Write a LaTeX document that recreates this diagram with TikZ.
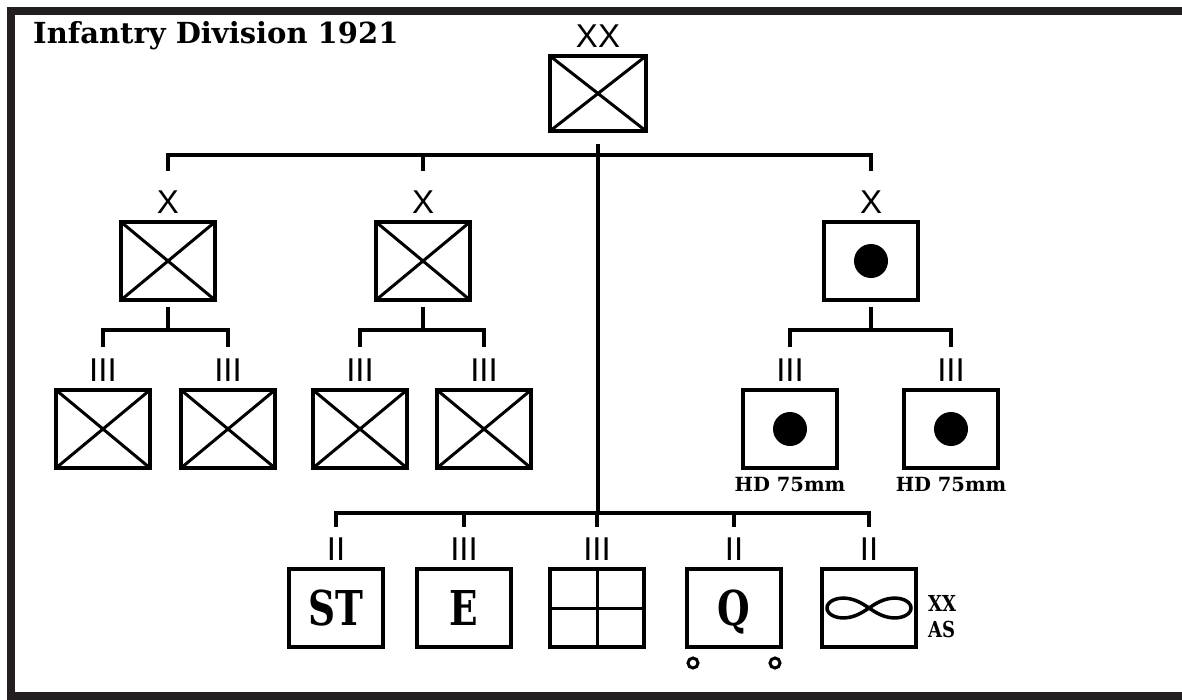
\documentclass[tikz,border=0pt]{standalone}
\usepackage{fontspec}
\setmainfont{DejaVu Serif}
\newfontfamily\echelonfont{Liberation Sans}
\usetikzlibrary{positioning}
\definecolor{cadre}{HTML}{231F20}

\begin{document}
\begin{tikzpicture}[x=1pt, y=-1pt,
    unit/.style={draw, line width=3.6pt, minimum width=94pt, minimum height=78pt, inner sep=0pt, outer sep=0pt},
    echelon/.style={font=\echelonfont\fontsize{33}{33}\selectfont, inner sep=0pt, anchor=base},
    link/.style={line width=3.3pt},
    crossline/.style={line width=3pt},
    big/.style={font=\bfseries\fontsize{48}{48}\selectfont},
    note/.style={font=\bfseries\fontsize{19.5}{20}\selectfont, inner sep=0pt}]
    \useasboundingbox (0,0) rectangle (1182,699);
    \draw[cadre, line width=8pt] (1182,10.5) -- (10.5,10.5) -- (10.5,696) -- (1182,696);
    \node[font=\bfseries\fontsize{29}{29}\selectfont, anchor=base west, inner sep=0pt] (titre) at (33,43) {Infantry Division 1921};

    % division
    \node[unit, minimum width=96pt, minimum height=75pt] (div) at (598,93.5) {};
    \node[echelon] (lbdiv) at ([yshift=9pt]div.north) {XX};

    % brigades
    \foreach \n/\x in {bdeA/168, bdeB/423, bdeArt/871} {
      \node[unit] (\n) at (\x,261) {};
      \node[echelon] (lb\n) at ([yshift=9pt]\n.north) {X};
    }
    % regiments
    \foreach \n/\x in {regA1/103, regA2/228, regB1/360, regB2/484, artA/790, artB/951} {
      \node[unit] (\n) at (\x,429) {};
      \node[echelon] (lb\n) at ([yshift=9pt]\n.north) {III};
    }
    \node[note, below=9pt of artA] (hdA) {HD 75mm};
    \node[note, below=9pt of artB] (hdB) {HD 75mm};

    % divisional troops
    \node[unit, big] (sig) at (336,608) {\scalebox{0.78}[1]{ST}};
    \node[unit, big] (eng) at (464,608) {\scalebox{0.78}[1]{E}};
    \node[unit] (trn) at (597,608) {};
    \node[unit, big, text depth=0pt] (sup) at (734,608) {\scalebox{0.78}[1]{Q}};
    \node[unit] (trs) at (869,608) {};
    \foreach \n/\e in {sig/II, eng/III, trn/III, sup/II, trs/II}
      \node[echelon] (lb\n) at ([yshift=9pt]\n.north) {\e};
    \node[note, anchor=west, align=left, font=\bfseries\fontsize{22}{26}\selectfont] (asNote)
      at ([xshift=12pt, yshift=-9pt]trs.east) {\scalebox{0.82}[1]{XX}\\\scalebox{0.82}[1]{AS}};

    % symbols
    \foreach \b in {div, bdeA, bdeB, regA1, regA2, regB1, regB2}
      \draw[crossline] (\b.north west) -- (\b.south east) (\b.south west) -- (\b.north east);
    \foreach \b in {bdeArt, artA, artB}
      \fill (\b.center) circle (17pt);
    \draw[crossline] (trn.north) -- (trn.south) (trn.west) -- (trn.east);
    \draw[crossline] ([shift={(-41,16)}]sup.south) circle (5pt);
    \draw[crossline] ([shift={(41,16)}]sup.south) circle (5pt);
    \draw[line width=3.5pt, shift={(trs.center)}] plot[smooth, domain=0:360, samples=120]
      ({42*cos(\x)/(1+sin(\x)*sin(\x))}, {28*sin(\x)*cos(\x)/(1+sin(\x)*sin(\x))});

    % connectors
    \coordinate (topbus) at (598,155);
    \coordinate (botbus) at (598,513);
    \draw[link] (lbbdeA.north |- topbus) ++(0,16) -- (lbbdeA.north |- topbus) -- (lbbdeArt.north |- topbus) -- ++(0,16);
    \draw[link] (lbbdeB.north |- topbus) -- ++(0,16);
    \draw[link] (div.south) ++(0,13) -- (div.south |- botbus);
    \foreach \b/\l/\r in {bdeA/regA1/regA2, bdeB/regB1/regB2, bdeArt/artA/artB} {
      \draw[link] (\b.south) ++(0,7) -- ++(0,23) coordinate (j\b);
      \draw[link] (lb\l.north |- j\b) ++(0,17) -- (lb\l.north |- j\b) -- (lb\r.north |- j\b) -- ++(0,17);
    }
    \draw[link] (lbsig.north |- botbus) ++(0,14) -- (lbsig.north |- botbus) -- (lbtrs.north |- botbus) -- ++(0,14);
    \foreach \n in {eng, trn, sup}
      \draw[link] (lb\n.north |- botbus) -- ++(0,14);
\end{tikzpicture}
\end{document}
